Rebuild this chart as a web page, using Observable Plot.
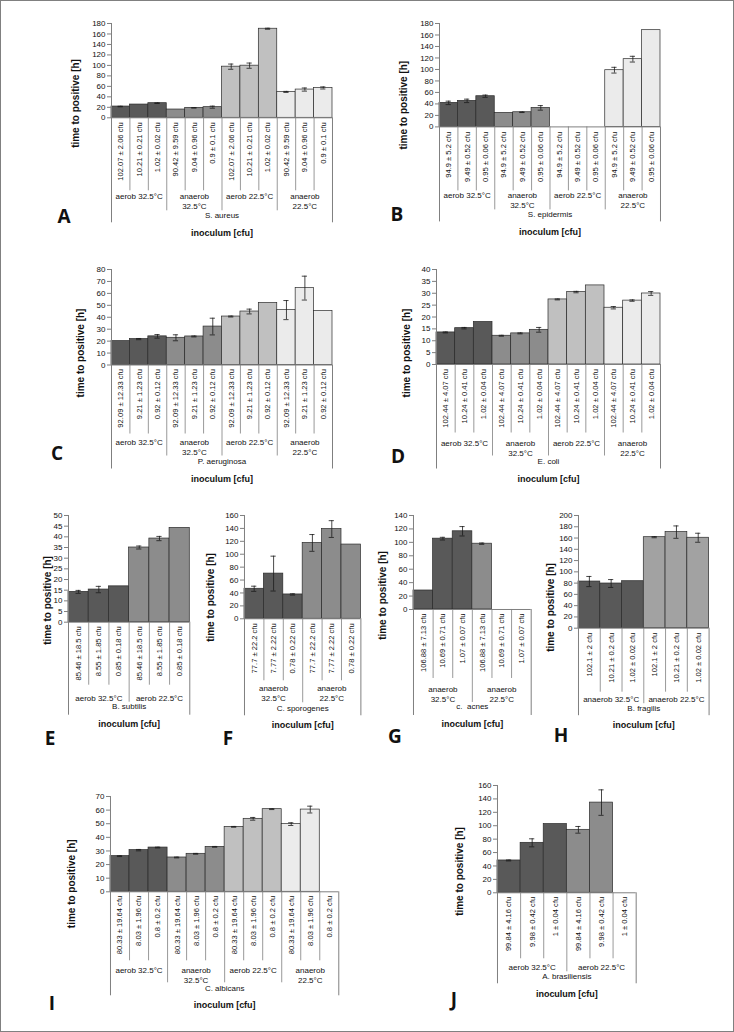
<!DOCTYPE html>
<html><head><meta charset="utf-8">
<script src="https://cdn.jsdelivr.net/npm/d3@7"></script>
<script src="https://cdn.jsdelivr.net/npm/@observablehq/plot@0.6"></script>
<style>
html,body{margin:0;padding:0;background:#fff;}
#fig{position:relative;width:734px;height:1032px;overflow:hidden;background:#fff;}
.panel{position:absolute;}
.panel svg{display:block;max-width:none;background:transparent;overflow:visible;}
.letter{position:absolute;font:bold 19px "Open Sans","Liberation Sans",sans-serif;color:#111;transform:translate(-50%,-50%);line-height:1;}
#frame{position:absolute;left:0;top:0;width:734px;height:1032px;box-sizing:border-box;border:1px solid #808080;pointer-events:none;}
</style></head>
<body><div id="fig"><div id="frame"></div></div>
<script>
// ---------- DATA ----------
const speciesA = "S. aureus";
const dosesA = ["102.07 ± 2.06 cfu", "10.21 ± 0.21 cfu", "1.02 ± 0.02 cfu", "90.42 ± 9.59 cfu", "9.04 ± 0.96 cfu", "0.9 ± 0.1 cfu", "102.07 ± 2.06 cfu", "10.21 ± 0.21 cfu", "1.02 ± 0.02 cfu", "90.42 ± 9.59 cfu", "9.04 ± 0.96 cfu", "0.9 ± 0.1 cfu"];
const groupsA = ["aerob 32.5°C", "anaerob\n32.5°C", "aerob 22.5°C", "anaerob\n22.5°C"];
const valuesA = [21.5, 25.3, 27.9, 15.8, 19, 20.3, 97.6, 99.5, 170, 49.4, 53.9, 57];
const errorsA = [0.5, 0, 0.5, 0, 0.5, 2, 5, 5, 1, 1, 3, 2];

const speciesB = "S. epidermis";
const dosesB = ["94.9 ± 5.2 cfu", "9.49 ± 0.52 cfu", "0.95 ± 0.06 cfu"];
const groupsB = ["aerob 32.5°C", "anaerob\n32.5°C", "aerob 22.5°C", "anaerob\n22.5°C"];
const valuesB = [41.8, 45.3, 53.4, 24.4, 25.5, 33.1, null, null, null, 98.7, 117.9, 168.4];
const errorsB = [3, 3, 2, 0, 0.5, 4, 0, 0, 0, 5, 5, 0];

const speciesC = "P. aeruginosa";
const dosesC = ["92.09 ± 12.33 cfu", "9.21 ± 1.23 cfu", "0.92 ± 0.12 cfu"];
const groupsC = ["aerob 32.5°C", "anaerob\n32.5°C", "aerob 22.5°C", "anaerob\n22.5°C"];
const valuesC = [20, 21.7, 24, 22.8, 23.9, 32.2, 40.6, 44.8, 51.9, 46, 64.4, 45.3];
const errorsC = [0, 0.5, 1.5, 2.5, 0.4, 7, 0.4, 2, 0, 8, 10, 0];

const speciesD = "E. coli";
const dosesD = ["102.44 ± 4.07 cfu", "10.24 ± 0.41 cfu", "1.02 ± 0.04 cfu"];
const groupsD = ["aerob 32.5°C", "anaerob\n32.5°C", "aerob 22.5°C", "anaerob\n22.5°C"];
const valuesD = [13.5, 15.3, 17.9, 12.1, 13.1, 14.6, 27.4, 30.5, 33.3, 23.9, 26.9, 29.9];
const errorsD = [0.2, 0.3, 0, 0.2, 0.2, 1, 0.2, 0.3, 0, 0.5, 0.3, 0.8];

const speciesE = "B. subtilis";
const dosesE = ["85.46 ± 18.5 cfu", "8.55 ± 1.85 cfu", "0.85 ± 0.18 cfu"];
const groupsE = ["aerob 32.5°C", "aerob 22.5°C"];
const valuesE = [14.2, 15.3, 16.8, 35, 39.2, 44.2];
const errorsE = [0.7, 1.5, 0, 0.7, 1, 0];

const speciesF = "C. sporogenes";
const dosesF = ["77.7 ± 22.2 cfu", "7.77 ± 2.22 cfu", "0.78 ± 0.22 cfu"];
const groupsF = ["anaerob\n32.5°C", "anaerob\n22.5°C"];
const valuesF = [46.5, 70, 37.7, 117.5, 139, 115];
const errorsF = [4, 27, 1, 13, 13, 0];

const speciesG = "c.  acnes";
const dosesG = ["106.88 ± 7.13 cfu", "10.69 ± 0.71 cfu", "1.07 ± 0.07 cfu"];
const groupsG = ["anaerob\n32.5°C", "anaerob\n22.5°C"];
const valuesG = [28.3, 105.5, 116.5, 98, null, null];
const errorsG = [0, 2, 7, 1, 0, 0];

const speciesH = "B. fragilis";
const dosesH = ["102.1 ± 2 cfu", "10.21 ± 0.2 cfu", "1.02 ± 0.02 cfu"];
const groupsH = ["anaerob 32.5°C", "anaerob 22.5°C"];
const valuesH = [82.8, 79.3, 83.4, 161.5, 170.5, 160.5];
const errorsH = [9, 7, 0, 1, 11, 8];

const speciesI = "C. albicans";
const dosesI = ["80.33 ± 19.64 cfu", "8.03 ± 1.96 cfu", "0.8 ± 0.2 cfu"];
const groupsI = ["aerob 32.5°C", "anaerob\n32.5°C", "aerob 22.5°C", "anaerob\n22.5°C"];
const valuesI = [26.2, 30.6, 32.5, 25.2, 27.9, 33, 47.7, 53.6, 60.7, 49.7, 60.4, null];
const errorsI = [0.3, 0.5, 0.3, 0.3, 0.3, 0.3, 0.3, 1, 0.3, 1, 2.5, 0];

const speciesJ = "A. brasiliensis";
const dosesJ = ["99.84 ± 4.16 cfu", "9.98 ± 0.42 cfu", "1 ± 0.04 cfu"];
const groupsJ = ["aerob 32.5°C", "aerob 22.5°C"];
const valuesJ = [48.2, 74.5, 102.5, 93.9, 134.5, null];
const errorsJ = [0.7, 6, 0, 5, 19, 0];

const yTitle = "time to positive [h]";
const xTitle = "inoculum [cfu]";
const colors4 = ["#595959", "#8c8c8c", "#c0c0c0", "#ebebeb"];
const colors2 = ["#595959", "#8c8c8c"];
const colors2H = ["#595959", "#a2a2a2"];

// ---------- LAYOUT ----------
const layouts = {
  A: {xa:111, xr:332, yt:23, y0:117.3, ymax:180, step:20, lab:4.4, inner:73, grp:77, grpSep:93, sp:100, outer:105, title:118, ty:[75.5,103], letter:[64,216]},
  B: {xa:439, xr:660, yt:23.3, y0:126.7, ymax:180, step:20, lab:5, inner:64, grp:67.5, grpSep:83, sp:90, outer:95, title:108, ty:[403,105], letter:[397,214]},
  C: {xa:111, xr:332, yt:268.5, y0:364, ymax:80, step:10, lab:4, inner:69, grp:76, grpSep:91, sp:99, outer:104, title:117, ty:[80,352], letter:[57,453]},
  D: {xa:436, xr:660, yt:268.5, y0:363.5, ymax:40, step:5, lab:4.5, inner:68.5, grp:77, grpSep:91.5, sp:99.5, outer:104.5, title:117.5, ty:[406.7,352], letter:[398,456]},
  E: {xa:68, xr:189.3, yt:515, y0:621.7, ymax:50, step:5, lab:4, inner:63, grp:75, grpSep:80, sp:87, outer:93, title:105, ty:[47,600], letter:[50,738]},
  F: {xa:244.3, xr:360.7, yt:515, y0:618.3, ymax:160, step:20, lab:4.5, inner:62, grp:68, grpSep:84, sp:92, outer:97, title:109, ty:[210.5,597], letter:[228,738]},
  G: {xa:413.3, xr:531, yt:515, y0:609, ymax:140, step:20, lab:4, inner:69, grp:78, grpSep:93, sp:100, outer:106, title:118, ty:[383,595], letter:[395,736]},
  H: {xa:577.7, xr:708.3, yt:515, y0:627.7, ymax:200, step:20, lab:4.5, inner:64, grp:70, grpSep:75.5, sp:82.5, outer:87.5, title:99.5, ty:[550,607], letter:[561,735]},
  I: {xa:110, xr:338.3, yt:795.7, y0:891, ymax:70, step:10, lab:4, inner:69, grp:77, grpSep:91, sp:99, outer:104, title:116.7, ty:[71,883], letter:[52,1003]},
  J: {xa:497.3, xr:636, yt:785, y0:892.3, ymax:160, step:20, lab:4, inner:66, grp:73.4, grpSep:79, sp:86.7, outer:91, title:104.4, ty:[460,871], letter:[454,999]}
};

const fig = document.getElementById("fig");
const FONT = "'Liberation Sans', Arial, sans-serif";
const LINE = "#7f7f7f";

function drawPanel(key, doses, groups, values, errors, colors, species) {
  const L = layouts[key];
  const n = values.length, ng = groups.length, per = n / ng;
  const labels = doses.length === n ? doses : groups.flatMap(() => doses);
  const mL = 60, mR = 15, mT = 8, mB = 125;
  const plotW = L.xr - L.xa, plotH = L.y0 - L.yt;
  const k = L.ymax / plotH;      // data units per pixel (y)
  const xw = n / plotW;          // data units per pixel (x)
  const idx = d3.range(n);
  const bars = idx.filter(i => values[i] != null);
  const errs = bars.filter(i => errors[i] > 0);
  const inner = idx.filter(i => i > 0 && i % per !== 0);
  const grpB = d3.range(1, ng).map(g => g * per);
  const ticks = d3.range(0, L.ymax + L.step / 2, L.step);
  const cap = 2.6 * xw;

  const chart = Plot.plot({
    width: plotW + mL + mR,
    height: plotH + mT + mB,
    marginLeft: mL, marginRight: mR, marginTop: mT, marginBottom: mB,
    x: {domain: [0, n], axis: null},
    y: {domain: [0, L.ymax], axis: null},
    color: {type: "identity"},
    style: {fontFamily: FONT, fontSize: "8px", color: "#111", background: "transparent", overflow: "visible"},
    marks: [
      Plot.rectY(bars, {x1: i => i, x2: i => i + 1, y: i => values[i],
        fill: i => colors[Math.floor(i / per)], stroke: "#2a2a2a", strokeWidth: 0.7}),
      Plot.ruleX(errs, {x: i => i + 0.5, y1: i => values[i] - errors[i], y2: i => values[i] + errors[i], stroke: "#1a1a1a", strokeWidth: 0.8}),
      Plot.ruleY(errs, {y: i => values[i] + errors[i], x1: i => i + 0.5 - cap, x2: i => i + 0.5 + cap, stroke: "#1a1a1a", strokeWidth: 0.8}),
      Plot.ruleY(errs, {y: i => values[i] - errors[i], x1: i => i + 0.5 - cap, x2: i => i + 0.5 + cap, stroke: "#1a1a1a", strokeWidth: 0.8}),
      Plot.axisY(ticks, {tickSize: 4, tickPadding: 2, fontSize: 8, label: null, stroke: LINE, fill: "#111"}),
      Plot.ruleY([0], {stroke: LINE, strokeWidth: 1}),
      Plot.ruleX([0], {y1: -L.outer * k, y2: L.ymax, stroke: LINE, strokeWidth: 1}),
      Plot.ruleX([n], {y1: -L.outer * k, y2: 0, stroke: LINE, strokeWidth: 1}),
      Plot.ruleX(inner, {x: d => d, y1: 0, y2: -L.inner * k, stroke: LINE, strokeWidth: 0.8}),
      Plot.ruleX(grpB, {x: d => d, y1: 0, y2: -L.grpSep * k, stroke: LINE, strokeWidth: 0.8}),
      Plot.text(idx, {x: i => i + 0.5, y: 0, text: i => labels[i], rotate: -90, textAnchor: "end",
        dy: L.lab, fontSize: 7.6, fill: "#111"}),
      Plot.text(d3.range(ng), {x: g => g * per + per / 2, y: 0, text: g => groups[g], lineAnchor: "top",
        dy: L.grp - 3, fontSize: 8, lineHeight: 1.25, fill: "#111"}),
      Plot.text([species], {frameAnchor: "bottom", dy: L.sp, fontSize: 8, fill: "#111"}),
      Plot.text([xTitle], {frameAnchor: "bottom", dy: L.title, fontSize: 9, fontWeight: "bold", fill: "#111"}),
      Plot.text([yTitle], {x: () => (L.ty[0] - L.xa) * xw, y: () => (L.y0 - L.ty[1]) * k, rotate: -90,
        fontSize: 10, fontWeight: "bold", fill: "#111"})
    ]
  });
  const div = document.createElement("div");
  div.className = "panel";
  div.style.left = (L.xa - mL) + "px";
  div.style.top = (L.yt - mT) + "px";
  div.appendChild(chart);
  fig.appendChild(div);

  const let_ = document.createElement("div");
  let_.className = "letter";
  let_.textContent = key;
  let_.style.left = L.letter[0] + "px";
  let_.style.top = L.letter[1] + "px";
  fig.appendChild(let_);
}

drawPanel("A", dosesA, groupsA, valuesA, errorsA, colors4, speciesA);
drawPanel("B", dosesB, groupsB, valuesB, errorsB, colors4, speciesB);
drawPanel("C", dosesC, groupsC, valuesC, errorsC, colors4, speciesC);
drawPanel("D", dosesD, groupsD, valuesD, errorsD, colors4, speciesD);
drawPanel("E", dosesE, groupsE, valuesE, errorsE, colors2, speciesE);
drawPanel("F", dosesF, groupsF, valuesF, errorsF, colors2, speciesF);
drawPanel("G", dosesG, groupsG, valuesG, errorsG, colors2, speciesG);
drawPanel("H", dosesH, groupsH, valuesH, errorsH, colors2H, speciesH);
drawPanel("I", dosesI, groupsI, valuesI, errorsI, colors4, speciesI);
drawPanel("J", dosesJ, groupsJ, valuesJ, errorsJ, colors2, speciesJ);
fig.appendChild(document.getElementById("frame"));
</script>
</body></html>
